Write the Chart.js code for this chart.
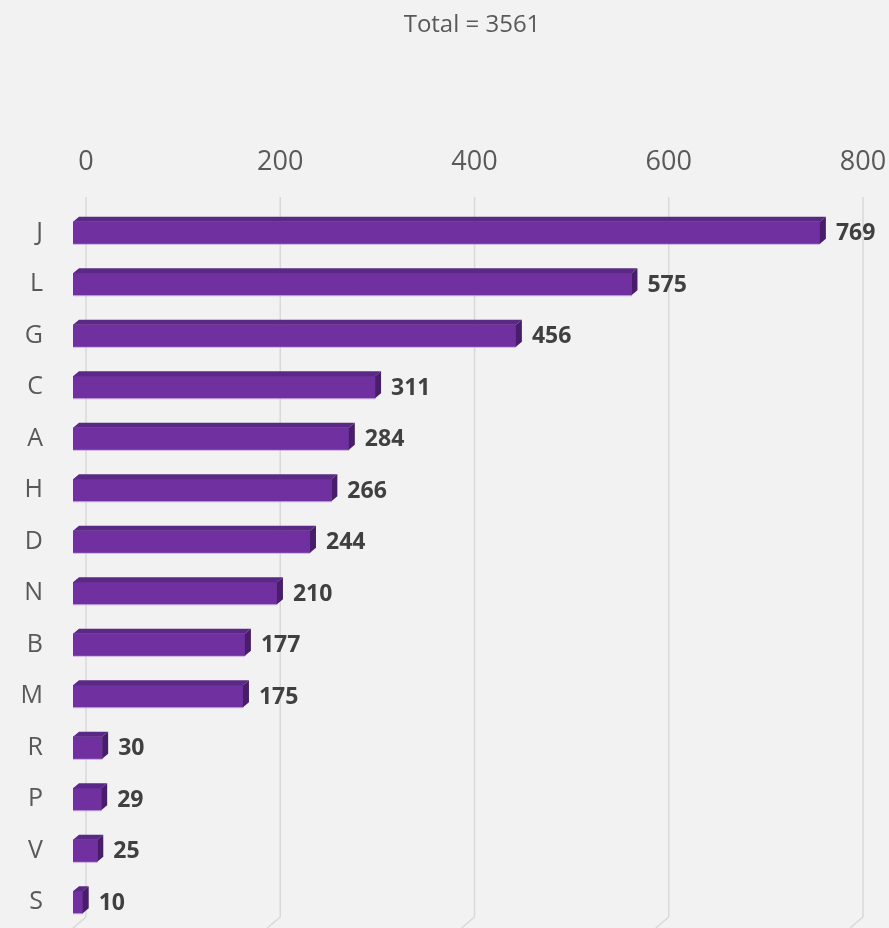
<!DOCTYPE html>
<html>
<head>
<meta charset="utf-8">
<script src="https://cdn.jsdelivr.net/npm/chart.js@4.4.1/dist/chart.umd.min.js"></script>
<style>
  html, body { margin: 0; padding: 0; background: #f2f2f2; }
  #wrap { width: 889px; height: 928px; }
</style>
</head>
<body>
<div id="wrap"><canvas id="c" width="889" height="928"></canvas></div>
<script>
const titleText = 'Total = 3561';
const categories = ['J','L','G','C','A','H','D','N','B','M','R','P','V','S'];
const values = [769,575,456,311,284,266,244,210,177,175,30,29,25,10];
const tickValues = [0,200,400,600,800];

const FONT = "'Open Sans', 'DejaVu Sans', sans-serif";
const depthX = 6, depthY = 5;     // 3D depth of bars
const backShift = 13.4;           // offset of back wall (value units)

function noPad(scale) {
  scale.paddingLeft = 0; scale.paddingRight = 0;
  scale.paddingTop = 0; scale.paddingBottom = 0;
}

const bg = {
  id: 'bg',
  beforeDraw(chart) {
    const ctx = chart.ctx;
    ctx.save();
    ctx.fillStyle = '#f2f2f2';
    ctx.fillRect(0, 0, chart.width, chart.height);
    ctx.fillStyle = '#595959';
    ctx.font = "24px " + FONT;
    ctx.textAlign = 'center';
    ctx.textBaseline = 'middle';
    ctx.fillText(titleText, 472, 25);
    ctx.restore();
  },
  beforeDatasetsDraw(chart) {
    const ctx = chart.ctx;
    const s = chart.scales.x2;
    const area = chart.chartArea;
    ctx.save();
    ctx.strokeStyle = '#d9d9d9';
    ctx.lineWidth = 1.5;
    tickValues.forEach(v => {
      const px = s.getPixelForValue(v);
      ctx.beginPath();
      ctx.moveTo(px, area.top - 10);
      ctx.lineTo(px, area.bottom - 11);
      ctx.lineTo(px - 13, area.bottom);
      ctx.stroke();
    });
    ctx.restore();
  },
  afterDatasetsDraw(chart) {
    const ctx = chart.ctx;
    const meta = chart.getDatasetMeta(0);
    ctx.save();
    meta.data.forEach((bar, i) => {
      const p = bar.getProps(['x','y','base','height'], true);
      const top = p.y - p.height / 2, bottom = p.y + p.height / 2;
      ctx.fillStyle = '#5a2985';
      ctx.beginPath();
      ctx.moveTo(p.base, top);
      ctx.lineTo(p.base + depthX, top - depthY);
      ctx.lineTo(p.x + depthX, top - depthY);
      ctx.lineTo(p.x, top);
      ctx.closePath();
      ctx.fill();
      ctx.fillStyle = '#4a1c6e';
      ctx.beginPath();
      ctx.moveTo(p.x, top);
      ctx.lineTo(p.x + depthX, top - depthY);
      ctx.lineTo(p.x + depthX, bottom - depthY);
      ctx.lineTo(p.x, bottom);
      ctx.closePath();
      ctx.fill();
      ctx.strokeStyle = 'rgba(190,150,225,0.8)';
      ctx.lineWidth = 1;
      ctx.beginPath();
      ctx.moveTo(p.base, bottom + 0.5);
      ctx.lineTo(p.x, bottom + 0.5);
      ctx.stroke();
      ctx.fillStyle = '#404040';
      ctx.font = "bold 23px " + FONT;
      ctx.textAlign = 'left';
      ctx.textBaseline = 'middle';
      ctx.fillText(String(values[i]), p.x + depthX + 10, p.y + 1);
    });
    ctx.restore();
  }
};

new Chart(document.getElementById('c'), {
  type: 'bar',
  data: {
    labels: categories,
    datasets: [{
      data: values,
      backgroundColor: '#7030a0',
      borderWidth: 0,
      barThickness: 22,
      xAxisID: 'x',
      yAxisID: 'y'
    }]
  },
  options: {
    indexAxis: 'y',
    responsive: false,
    animation: false,
    devicePixelRatio: 1,
    layout: { padding: { top: 0, right: 26, bottom: 0, left: 0 } },
    plugins: { legend: { display: false }, tooltip: { enabled: false }, title: { display: false } },
    scales: {
      x: {
        type: 'linear',
        display: false,
        min: 0,
        max: 800 + backShift,
        afterFit: noPad
      },
      x2: {
        type: 'linear',
        position: 'top',
        min: -backShift,
        max: 800,
        grid: { display: false, drawTicks: false },
        border: { display: false },
        afterBuildTicks(scale) { scale.ticks = tickValues.map(v => ({ value: v })); },
        afterFit(scale) { scale.height = 207; noPad(scale); },
        ticks: {
          color: '#595959',
          font: { family: FONT, size: 27 },
          padding: 28,
          maxRotation: 0,
          autoSkip: false
        }
      },
      y: {
        type: 'category',
        position: 'left',
        grid: { display: false, drawTicks: false },
        border: { display: false },
        afterFit(scale) { scale.width = 73; noPad(scale); },
        ticks: {
          color: '#595959',
          font: { family: FONT, size: 25 },
          padding: 30
        }
      }
    }
  },
  plugins: [bg]
});
</script>
</body>
</html>
